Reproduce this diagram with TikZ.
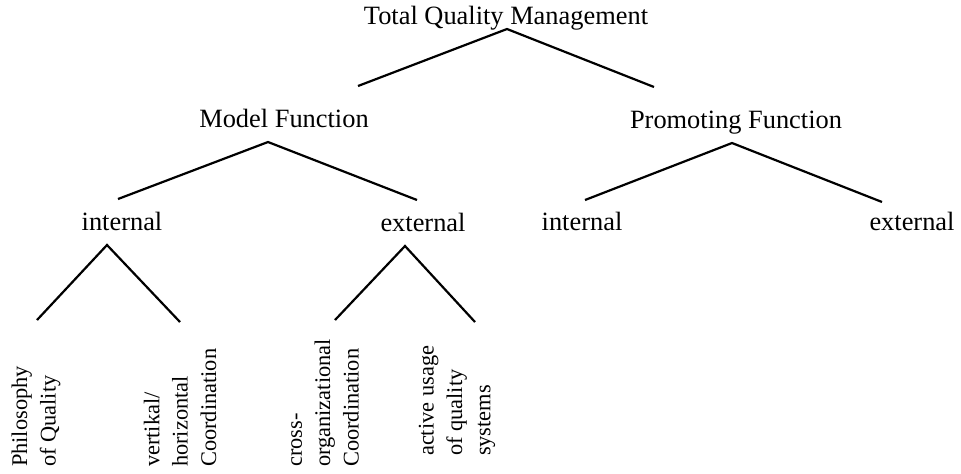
\documentclass[tikz,border=0pt]{standalone}
\usepackage{fontspec}
\setmainfont{Liberation Serif}

\begin{document}
\begin{tikzpicture}[x=0.5pt, y=-0.5pt, line width=1.1pt,
  level/.style={anchor=base, inner sep=0pt, font=\fontsize{13.2}{15}\selectfont},
  leaf/.style={rotate=90, anchor=west, inner sep=0pt, align=left, font=\fontsize{11.2}{14.2}\selectfont}]

\useasboundingbox (0,0) rectangle (961,473);

% Define labels of the tree
\node[level] (tqm) at (506,24) {Total Quality Management};
\node[level] (model) at (284,127) {Model Function};
\node[level] (promo) at (736,128) {Promoting Function};
\node[level] (mint) at (122,230) {internal};
\node[level] (mext) at (423,231) {external};
\node[level] (pint) at (582,230) {internal};
\node[level] (pext) at (912,230) {external};

% Add rotated leaves
\node[leaf] (phil) at (36,468) {Philosophy\\of Quality};
\node[leaf] (vert) at (180,468) {vertikal/\\horizontal\\Coordination};
\node[leaf] (cross) at (325,468) {cross-\\organizational\\Coordination};
\node[leaf] (active) at (457,457) {active usage\\of quality\\systems};

% Points where the branches meet and end
\coordinate (tqmtop) at (507,29);
\coordinate (modeltop) at (268,142);
\coordinate (promotop) at (732,143);
\coordinate (minttop) at (107,245);
\coordinate (mexttop) at (405,246);

\coordinate (modelend) at (358,86);
\coordinate (promoend) at (654,87);
\coordinate (mintend) at (118,199);
\coordinate (mextend) at (417,200);
\coordinate (pintend) at (585,200);
\coordinate (pextend) at (882,202);
\coordinate (philend) at (37,320);
\coordinate (vertend) at (180,322);
\coordinate (crossend) at (335,320);
\coordinate (activeend) at (475,322);

% Draw branches
\draw (modelend) -- (tqmtop) -- (promoend);
\draw (mintend) -- (modeltop) -- (mextend);
\draw (pintend) -- (promotop) -- (pextend);
\draw (philend) -- (minttop) -- (vertend);
\draw (crossend) -- (mexttop) -- (activeend);
\end{tikzpicture}
\end{document}
